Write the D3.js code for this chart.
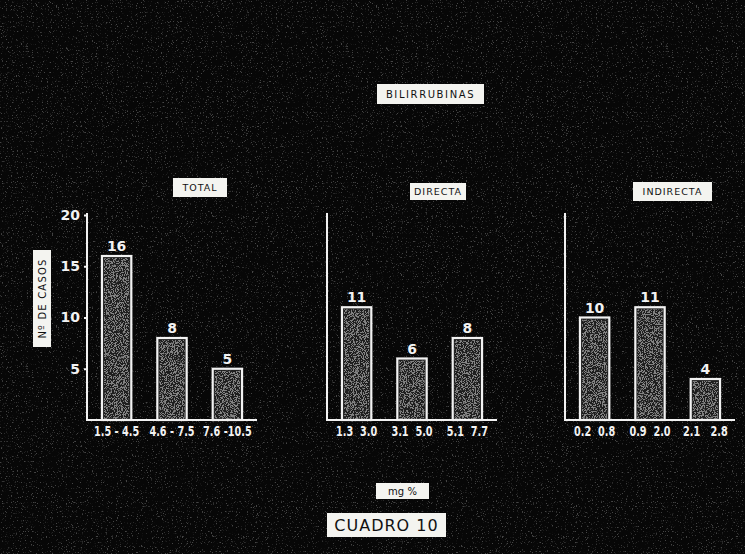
<!DOCTYPE html>
<html><head><meta charset="utf-8">
<script src="https://cdn.jsdelivr.net/npm/d3@7"></script>
<style>body{margin:0;background:#000}svg{display:block}</style>
</head><body>
<svg id="c" width="745" height="554"></svg>
<script>
const chartTitle = "BILIRRUBINAS";
const panelTitles = ["TOTAL", "DIRECTA", "INDIRECTA"];
const totalCategories = ["1.5 - 4.5", "4.6 - 7.5", "7.6 -10.5"];
const totalValues = [16, 8, 5];
const directaCategories = ["1.3  3.0", "3.1  5.0", "5.1  7.7"];
const directaValues = [11, 6, 8];
const indirectaCategories = ["0.2  0.8", "0.9  2.0", "2.1   2.8"];
const indirectaValues = [10, 11, 4];
const yTicks = [5, 10, 15, 20];
const yLabel = "Nº DE CASOS";
const xUnit = "mg  %";
const caption = "CUADRO  10";

const svg = d3.select("#c");
const W = 745, H = 554;
const defs = svg.append("defs");

function grain(id, freq, thr, alpha, seed) {
  const f = defs.append("filter").attr("id", id).attr("filterUnits", "userSpaceOnUse")
    .attr("x", 0).attr("y", 0).attr("width", W).attr("height", H);
  f.append("feTurbulence").attr("type", "fractalNoise").attr("baseFrequency", freq).attr("numOctaves", 2).attr("seed", seed).attr("result", "n");
  f.append("feColorMatrix").attr("in", "n").attr("type", "matrix")
    .attr("values", `0 0 0 0 1  0 0 0 0 1  0 0 0 0 1  ${thr} 0 0 0 ${alpha}`).attr("result", "m");
  f.append("feComposite").attr("in", "m").attr("in2", "SourceGraphic").attr("operator", "in");
}
grain("g1", 0.8, 8, -5.0, 7);
grain("g2", 1.1, 14, -6.8, 3);

svg.append("rect").attr("width", W).attr("height", H).attr("fill", "#070707");
svg.append("rect").attr("width", W).attr("height", H).attr("fill", "#000").attr("filter", "url(#g1)").attr("opacity", 0.25);

const y = d3.scaleLinear().domain([0, 20]).range([420, 215]);
const panels = [
  {x0: 87, title: panelTitles[0], cats: totalCategories, vals: totalValues, showY: true, tb: [173, 178, 54, 19]},
  {x0: 327, title: panelTitles[1], cats: directaCategories, vals: directaValues, showY: false, tb: [410, 183, 56, 17]},
  {x0: 565, title: panelTitles[2], cats: indirectaCategories, vals: indirectaValues, showY: false, tb: [633, 182, 79, 19]}
];
const font = "'DejaVu Sans', sans-serif";

function labelBox(x, yy, w, h, text, size, ls) {
  svg.append("rect").attr("x", x).attr("y", yy).attr("width", w).attr("height", h).attr("fill", "#f4f4f0");
  svg.append("text").attr("x", x + w / 2).attr("y", yy + h / 2).attr("text-anchor", "middle")
    .attr("dominant-baseline", "central").attr("font-family", font).attr("font-size", size)
    .attr("letter-spacing", ls).attr("fill", "#111").text(text);
}

panels.forEach(p => {
  const x = d3.scaleBand().domain(p.cats).range([p.x0, p.x0 + 170]).paddingInner(0.47).paddingOuter(0.27);
  const g = svg.append("g");
  const bars = g.selectAll("g.bar").data(p.cats.map((c, i) => ({c, v: p.vals[i]}))).join("g");
  bars.append("rect").attr("x", d => x(d.c)).attr("y", d => y(d.v)).attr("width", x.bandwidth())
    .attr("height", d => y(0) - y(d.v)).attr("fill", "#1e1e1e").attr("stroke", "#f2f2f2").attr("stroke-width", 2.2);
  bars.append("rect").attr("x", d => x(d.c) + 2).attr("y", d => y(d.v) + 2).attr("width", x.bandwidth() - 4)
    .attr("height", d => y(0) - y(d.v) - 2).attr("fill", "#000").attr("filter", "url(#g2)").attr("opacity", 0.45);
  bars.append("text").attr("x", d => x(d.c) + x.bandwidth() / 2).attr("y", d => y(d.v) - 5)
    .attr("text-anchor", "middle").attr("font-family", font).attr("font-weight", "bold").attr("font-size", 14)
    .attr("fill", "#f2f2f2").text(d => d.v);
  g.append("line").attr("x1", p.x0).attr("x2", p.x0).attr("y1", y(20) - 2).attr("y2", y(0) + 1)
    .attr("stroke", "#f2f2f2").attr("stroke-width", 2);
  g.append("line").attr("x1", p.x0 - 1).attr("x2", p.x0 + 170).attr("y1", y(0)).attr("y2", y(0))
    .attr("stroke", "#f2f2f2").attr("stroke-width", 2);
  const xa = g.append("g").attr("transform", `translate(0,${y(0)})`).call(d3.axisBottom(x).tickSize(0).tickPadding(6));
  xa.select(".domain").remove();
  xa.selectAll("text").attr("font-family", font).attr("font-weight", "bold").attr("font-size", 13.5)
    .attr("fill", "#f2f2f2").style("white-space", "pre").attr("transform", "scale(0.72,1)");
  if (p.showY) {
    const ya = g.append("g").attr("transform", `translate(${p.x0},0)`).call(d3.axisLeft(y).tickValues(yTicks).tickSize(3).tickPadding(4));
    ya.select(".domain").remove();
    ya.selectAll("line").attr("stroke", "#f2f2f2").attr("stroke-width", 2);
    ya.selectAll("text").attr("font-family", font).attr("font-weight", "bold").attr("font-size", 14).attr("fill", "#f2f2f2");
  }
  labelBox(p.tb[0], p.tb[1], p.tb[2], p.tb[3], p.title, 9.5, 1);
});

svg.append("rect").attr("x", 33).attr("y", 250).attr("width", 18).attr("height", 97).attr("fill", "#f4f4f0");
svg.append("text").attr("transform", "translate(42,298.5) rotate(-90)").attr("text-anchor", "middle")
  .attr("dominant-baseline", "central").attr("font-family", font).attr("font-size", 10).attr("letter-spacing", 1.2)
  .attr("fill", "#111").text(yLabel);

labelBox(377, 84, 107, 20, chartTitle, 10, 1.6);
labelBox(376, 483, 53, 16, xUnit, 10, 0);
labelBox(327, 513, 119, 24, caption, 16, 1);
</script>
</body></html>
